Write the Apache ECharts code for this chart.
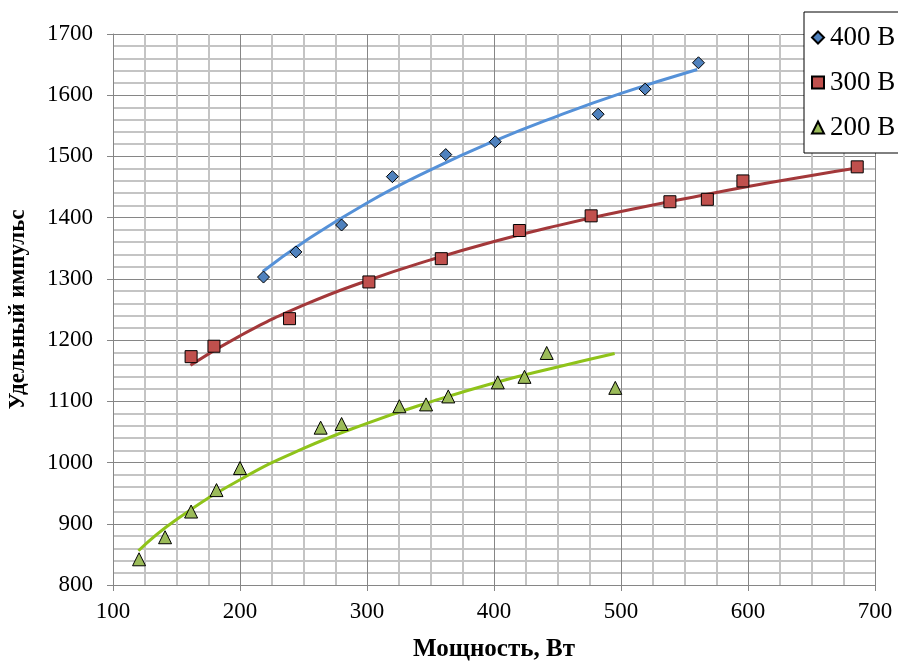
<!DOCTYPE html>
<html>
<head>
<meta charset="utf-8">
<script src="https://cdn.jsdelivr.net/npm/echarts@6/dist/echarts.min.js"></script>
<style>html,body{margin:0;padding:0;background:#fff}#c{width:898px;height:664px}</style>
</head>
<body>
<div id="c"></div>
<script>
// Measured points
const x400 = [218.5, 244, 280, 320, 362, 401, 482, 519, 561];
const y400 = [1303, 1344, 1388, 1467, 1503, 1524, 1569, 1610, 1653];
const x300 = [161.5, 179.5, 239, 301.5, 358.5, 420, 476.5, 538.5, 568, 596, 686];
const y300 = [1173, 1190, 1235, 1295, 1333, 1379, 1403, 1426, 1430, 1460, 1483];
const x200 = [120.5, 141, 161.5, 181.5, 200, 263.5, 280, 325.5, 346.5, 364, 403, 424, 441.5, 495.5];
const y200 = [842, 878, 920, 955, 991, 1057, 1063, 1092, 1095, 1108, 1131, 1140, 1179, 1122];
// Trend lines
const tx400 = [218, 250, 300, 350, 400, 450, 500, 560];
const ty400 = [1312, 1360, 1424, 1478, 1525, 1566, 1603, 1642];
const tx300 = [161, 200, 250, 300, 350, 400, 450, 500, 550, 600, 650, 686];
const ty300 = [1159, 1207, 1257, 1297, 1331, 1361, 1387, 1410, 1431, 1451, 1469, 1481];
const tx200 = [120, 150, 200, 250, 300, 350, 400, 450, 495];
const ty200 = [856, 907, 972, 1023, 1064, 1099, 1130, 1156, 1178];
const xTicks = [100, 200, 300, 400, 500, 600, 700];
const yTicks = [800, 900, 1000, 1100, 1200, 1300, 1400, 1500, 1600, 1700];
const names = ['400 В', '300 В', '200 В'];

const zip = (a, b) => a.map((v, i) => [v, b[i]]);
const FONT = '"Liberation Serif", "Times New Roman", serif';

const chart = echarts.init(document.getElementById('c'), null, {renderer: 'canvas'});
chart.setOption({
  animation: false,
  backgroundColor: '#fff',
  grid: {left: 113, right: 23, top: 34, bottom: 79, containLabel: false, outerBoundsMode: 'none'},
  xAxis: {
    type: 'value', min: xTicks[0], max: xTicks[xTicks.length - 1], interval: 100,
    name: 'Мощность, Вт', nameLocation: 'middle', nameGap: 52,
    nameTextStyle: {fontFamily: FONT, fontSize: 25, fontWeight: 'bold', color: '#000'},
    axisLine: {show: true, lineStyle: {color: '#868686', width: 1}},
    axisTick: {show: true, inside: false, length: 6, lineStyle: {color: '#868686'}},
    axisLabel: {fontFamily: FONT, fontSize: 23, color: '#000', margin: 15, formatter: v => String(v)},
    splitLine: {show: true, lineStyle: {color: '#868686', width: 1}},
    minorTick: {show: false, splitNumber: 4},
    minorSplitLine: {show: true, lineStyle: {color: '#c4c4c4', width: 2}}
  },
  yAxis: {
    type: 'value', min: yTicks[0], max: yTicks[yTicks.length - 1], interval: 100,
    name: 'Удельный импульс', nameLocation: 'middle', nameGap: 83, nameRotate: 90,
    nameTextStyle: {fontFamily: FONT, fontSize: 23, fontWeight: 'bold', color: '#000'},
    axisLine: {show: true, lineStyle: {color: '#868686', width: 1}},
    axisTick: {show: true, inside: false, length: 6, lineStyle: {color: '#868686'}},
    axisLabel: {fontFamily: FONT, fontSize: 23, color: '#000', margin: 20, formatter: v => String(v)},
    splitLine: {show: true, lineStyle: {color: '#868686', width: 1}},
    minorTick: {show: false, splitNumber: 5},
    minorSplitLine: {show: true, lineStyle: {color: '#c4c4c4', width: 2}}
  },
  legend: {
    data: [
      {name: names[0], icon: 'diamond'},
      {name: names[1], icon: 'rect'},
      {name: names[2], icon: 'triangle'}
    ],
    orient: 'vertical', left: 804, top: 12,
    padding: [12, 30, 12, 7], itemGap: 18,
    itemWidth: 12, itemHeight: 12,
    borderColor: '#000', borderWidth: 1, backgroundColor: '#fff',
    textStyle: {fontFamily: FONT, fontSize: 27, color: '#000', padding: [0, 0, 0, 1]}
  },
  series: [
    {type: 'line', data: zip(tx400, ty400), smooth: true, showSymbol: false, silent: true,
     lineStyle: {color: '#5591d8', width: 3}, z: 2},
    {type: 'line', data: zip(tx300, ty300), smooth: true, showSymbol: false, silent: true,
     lineStyle: {color: '#a3383a', width: 3}, z: 2},
    {type: 'line', data: zip(tx200, ty200), smooth: true, showSymbol: false, silent: true,
     lineStyle: {color: '#8fc31a', width: 3}, z: 2},
    {name: names[0], type: 'scatter', data: zip(x400, y400), symbol: 'diamond', symbolSize: 12,
     itemStyle: {color: '#4f81bd', borderColor: '#000', borderWidth: 1, opacity: 1}, z: 3},
    {name: names[1], type: 'scatter', data: zip(x300, y300), symbol: 'rect', symbolSize: 12,
     itemStyle: {color: '#c0504d', borderColor: '#000', borderWidth: 1, opacity: 1}, z: 3},
    {name: names[2], type: 'scatter', data: zip(x200, y200), symbol: 'triangle', symbolSize: 13,
     itemStyle: {color: '#9bbb59', borderColor: '#000', borderWidth: 1, opacity: 1}, z: 3}
  ]
});
</script>
</body>
</html>
